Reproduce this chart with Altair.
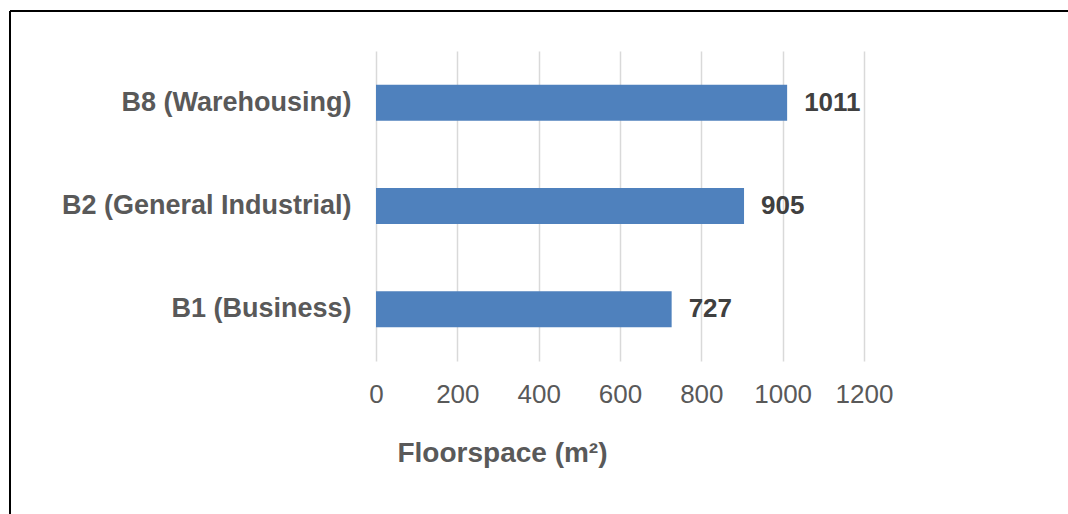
import altair as alt
import pandas as pd

categories = ["B8 (Warehousing)", "B2 (General Industrial)", "B1 (Business)"]
floorspace = [1011, 905, 727]
x_ticks = [0, 200, 400, 600, 800, 1000, 1200]

df = pd.DataFrame({"category": categories, "floorspace": floorspace})
FONT = "Liberation Sans"

y_enc = alt.Y(
    "category:N",
    sort=categories,
    scale=alt.Scale(paddingInner=0, paddingOuter=0),
    axis=alt.Axis(
        title=None, labelFont=FONT, labelFontSize=27, labelFontWeight="bold",
        labelColor="#595959", labelPadding=25, ticks=False, domain=False,
        grid=False, labelLimit=400,
    ),
)
x_enc = alt.X(
    "floorspace:Q",
    scale=alt.Scale(domain=[0, 1200], nice=False, zero=True),
    axis=alt.Axis(
        values=x_ticks, format="d", title="Floorspace (m²)", grid=True,
        gridColor="#D9D9D9", gridWidth=1.5, domain=False, ticks=False,
        labelFont=FONT, labelFontSize=26, labelColor="#595959", labelPadding=41,
        labelFlush=False, labelOverlap=False, labelBaseline="alphabetic",
        titleFont=FONT, titleFontSize=28, titleFontWeight="bold", titleColor="#595959",
        titleX=126, titleY=100, titleAlign="center", titleBaseline="alphabetic",
    ),
)

base = alt.Chart(df)
bars = base.mark_bar(size=36, color="#4F81BD").encode(x=x_enc, y=y_enc)
labels = base.mark_text(
    align="left", baseline="middle", dx=17, font=FONT, fontSize=26,
    fontWeight="bold", color="#404040",
).encode(x="floorspace:Q", y=alt.Y("category:N", sort=categories), text="floorspace:Q")

frame_df = pd.DataFrame({"k": [0]})
top_line = alt.Chart(frame_df).mark_rule(color="black", strokeWidth=2).encode(
    x=alt.value(-366), x2=alt.value(692), y=alt.value(-40)
)
left_line = alt.Chart(frame_df).mark_rule(color="black", strokeWidth=2).encode(
    x=alt.value(-366), y=alt.value(-40), y2=alt.value(463)
)

chart = alt.layer(bars, labels, top_line, left_line).properties(
    width=488, height=310,
    padding={"left": 376, "top": 51, "right": 204, "bottom": 153},
    autosize=alt.AutoSizeParams(type="none"),
    background="white",
).configure_view(stroke=None)

chart.save("out.html", embed_options={"renderer": "svg", "actions": False})
